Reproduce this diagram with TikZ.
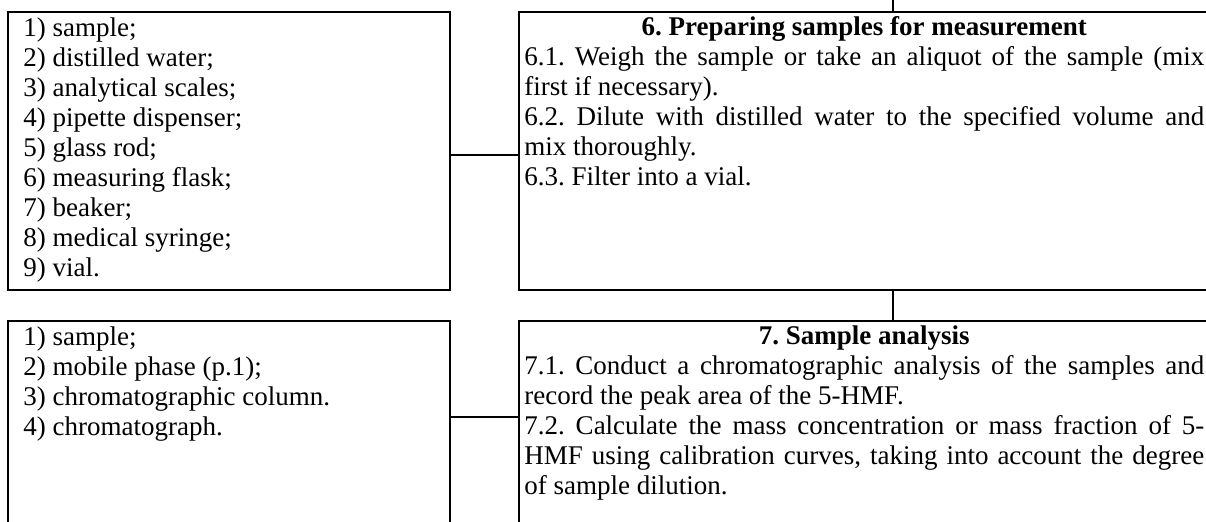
\documentclass[tikz,border=0pt]{standalone}
\usepackage{fontspec}
\setmainfont{Liberation Serif}
\usetikzlibrary{positioning}
\setlength{\parindent}{0pt}
\frenchspacing
\tikzset{%
  framel/.style={rectangle,draw=black,line width=1.1pt,outer sep=0pt,inner sep=0pt,minimum width=265.2pt,minimum height=#1}
}
\tikzset{%
  framer/.style={rectangle,draw=black,line width=1.1pt,outer sep=0pt,inner sep=0pt,minimum width=448.8pt,minimum height=#1}
}
\tikzset{%
  listtext/.style={anchor=north west,inner sep=0pt,align=left,font=\fontsize{16.2}{18}\selectfont},
  steptext/.style={anchor=north west,inner sep=0pt,text width=408pt,align=justify,font=\fontsize{16.2}{18}\selectfont},
  link/.style={draw=black,line width=1.1pt}
}
\newcommand\steptitle[1]{{\centering\bfseries #1\par}}

\begin{document}
\begin{tikzpicture}[x=0.6pt,y=-0.6pt]
        \useasboundingbox (0,0) rectangle (1206,522);
        \clip (0,0) rectangle (1206,522);
        \node[framel=166.8pt,anchor=north west](toolsa) at (8,12){};
        \node[framer=166.8pt,right=41.4pt of toolsa](stepa){};
        \node[framel=138pt,below=18.6pt of toolsa](toolsb){};
        \node[framer=138pt,right=41.4pt of toolsb](stepb){};

        \node[listtext](toolsatext) at ([xshift=9pt,yshift=-3pt]toolsa.north west){1) sample;\\
          2) distilled water;\\ 3) analytical scales;\\ 4) pipette dispenser;\\
          5) glass rod;\\ 6) measuring flask;\\ 7) beaker;\\ 8) medical syringe;\\ 9) vial.};
        \node[steptext](stepatext) at ([xshift=3pt,yshift=-2.4pt]stepa.north west){%
          \steptitle{6. Preparing samples for measurement}
          6.1. Weigh the sample or take an aliquot of the sample (mix\linebreak first if necessary).\par
          6.2. Dilute with distilled water to the specified volume and\linebreak mix thoroughly.\par
          6.3. Filter into a vial.\par};

        \node[listtext](toolsbtext) at ([xshift=9pt,yshift=-3pt]toolsb.north west){1) sample;\\
          2) mobile phase (p.1);\\ 3) chromatographic column.\\ 4) chromatograph.};
        \node[steptext](stepbtext) at ([xshift=3pt,yshift=-2.4pt]stepb.north west){%
          \steptitle{7. Sample analysis}
          7.1. Conduct a chromatographic analysis of the samples and\linebreak record the peak area of the 5-HMF.\par
          7.2. Calculate the mass concentration or mass fraction of 5-\linebreak HMF using calibration curves, taking into account the degree\linebreak of sample dilution.\par};

        \coordinate (topend) at (893,0);
        \draw[link] (stepa.north) -- (topend);
        \draw[link] (stepa.south) -- (stepb.north);
        \draw[link] ([yshift=-85.8pt]toolsa.north east) -- ([yshift=-85.8pt]stepa.north west);
        \draw[link] ([yshift=-57.6pt]toolsb.north east) -- ([yshift=-57.6pt]stepb.north west);
\end{tikzpicture}
\end{document}
